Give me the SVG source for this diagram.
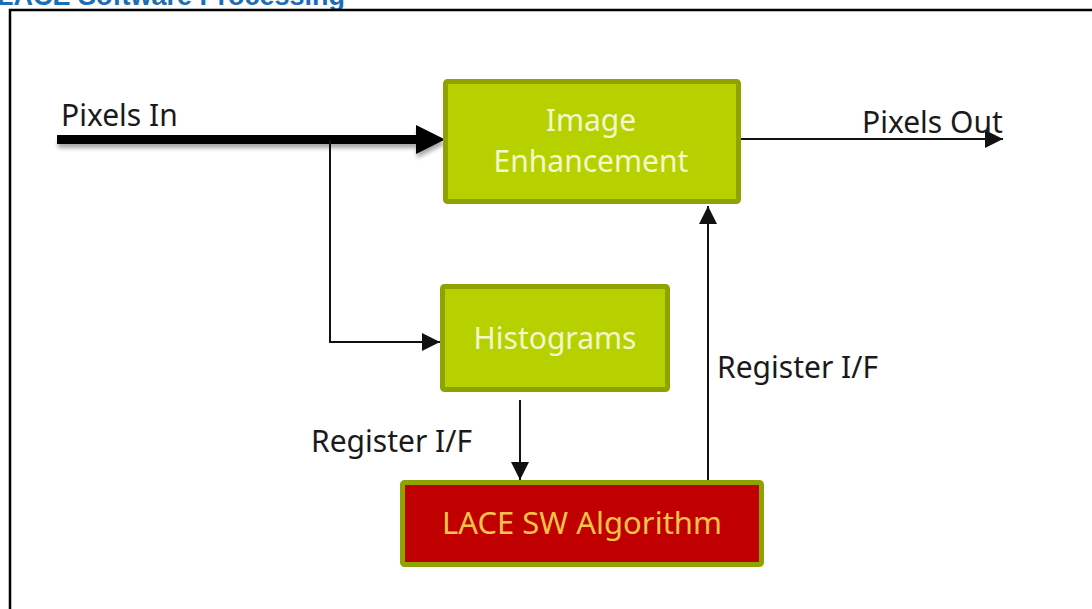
<svg xmlns="http://www.w3.org/2000/svg" width="1092" height="609" viewBox="0 0 1092 609">
  <defs>
    <style>
      .lbl { font-family: "Noto Sans", "Open Sans", sans-serif; font-size: 30px; fill: #1a1a1a; }
      .box { fill: #b7d100; stroke: #8fa300; stroke-width: 5; }
      .boxr { fill: #c00000; stroke: #8fa300; stroke-width: 5; }
      .btxt { font-family: "Noto Sans", "Open Sans", sans-serif; font-size: 30px; fill: #f3f7cc; text-anchor: middle; }
      .rtxt { font-family: "Noto Sans", "Open Sans", sans-serif; font-size: 31px; fill: #f6c34a; text-anchor: middle; }
      .thin { stroke: #111; stroke-width: 2; fill: none; }
    </style>
    <marker id="ahs" viewBox="0 0 10 10" refX="10" refY="5" markerWidth="18" markerHeight="18" markerUnits="userSpaceOnUse" orient="auto">
      <path d="M0,0 L10,5 L0,10 z" fill="#111"/>
    </marker>
    <filter id="sh" x="-5%" y="-50%" width="110%" height="200%">
      <feGaussianBlur in="SourceAlpha" stdDeviation="2"/>
      <feOffset dx="1" dy="4"/>
      <feComponentTransfer><feFuncA type="linear" slope="0.35"/></feComponentTransfer>
      <feMerge><feMergeNode/><feMergeNode in="SourceGraphic"/></feMerge>
    </filter>
  </defs>
  <rect width="1092" height="609" fill="#ffffff"/>
  <text x="-3" y="5" font-family="Liberation Sans, Arial, sans-serif" font-weight="bold" font-size="27" fill="#1c6eb4">LACE Software Processing</text>
  <path d="M10,609 V10 H1092" stroke="#000" stroke-width="2.5" fill="none"/>

  <g id="connectors">
    <g filter="url(#sh)">
      <line x1="57" y1="139.5" x2="420" y2="139.5" stroke="#000" stroke-width="9"/>
      <path d="M416,125 L445,139.5 L416,154 z" fill="#000"/>
    </g>
    <polyline class="thin" points="330,140 330,342 440,342" marker-end="url(#ahs)"/>
    <line class="thin" x1="741" y1="139" x2="1003" y2="139" marker-end="url(#ahs)"/>
    <line class="thin" x1="520" y1="400" x2="520" y2="480" marker-end="url(#ahs)"/>
    <line class="thin" x1="708" y1="480" x2="708" y2="206" marker-end="url(#ahs)"/>
  </g>

  <g id="label-pixels-in"><text class="lbl" x="61" y="126">Pixels In</text></g>
  <g id="label-pixels-out"><text class="lbl" x="862" y="133">Pixels Out</text></g>
  <g id="label-reg-left"><text class="lbl" x="311" y="452">Register I/F</text></g>
  <g id="label-reg-right"><text class="lbl" x="717" y="378">Register I/F</text></g>

  <g id="image-enhancement">
    <rect class="box" x="445.5" y="81.5" width="293" height="120" rx="2"/>
    <text class="btxt" x="591" y="131">Image</text>
    <text class="btxt" x="591" y="172">Enhancement</text>
  </g>
  <g id="histograms">
    <rect class="box" x="442.5" y="286.5" width="225" height="103" rx="2"/>
    <text class="btxt" x="555" y="349">Histograms</text>
  </g>
  <g id="lace-sw">
    <rect class="boxr" x="402.5" y="482.5" width="359" height="82" rx="2"/>
    <text class="rtxt" x="582" y="534">LACE SW Algorithm</text>
  </g>
</svg>
